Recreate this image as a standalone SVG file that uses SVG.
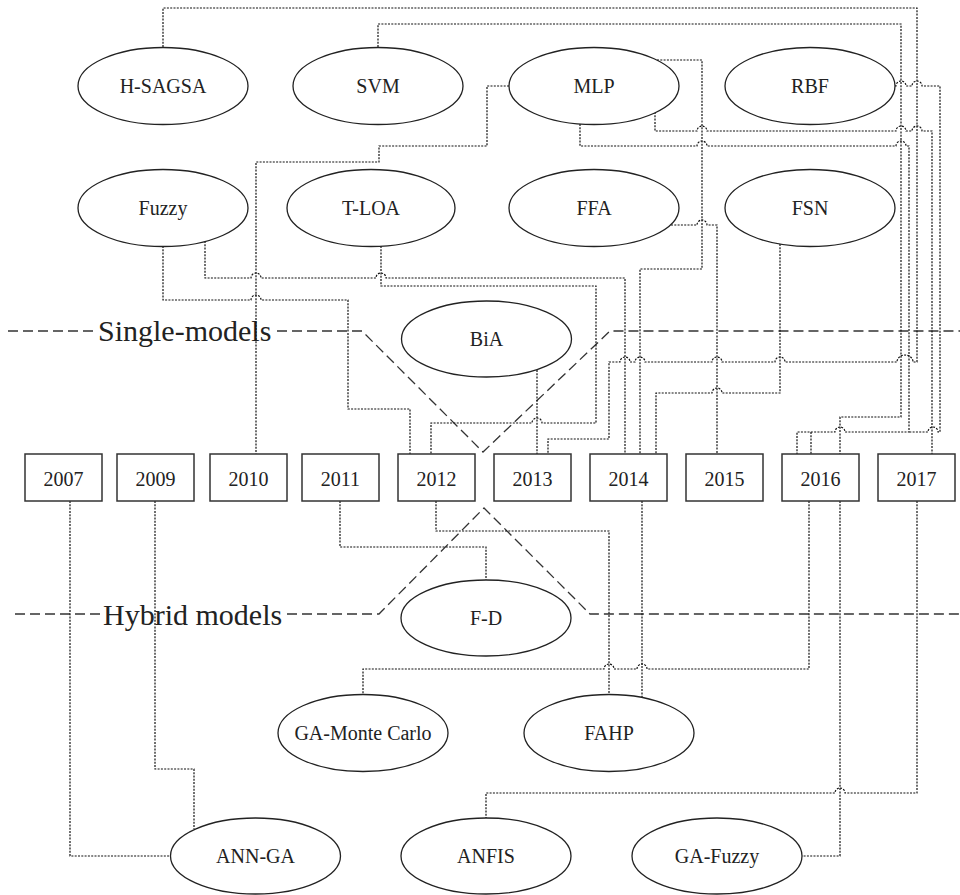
<svg xmlns="http://www.w3.org/2000/svg" width="960" height="895" viewBox="0 0 960 895">
  <style>
    .node ellipse { fill: #fff; stroke: #222; stroke-width: 1.3; }
    .node rect { fill: #fff; stroke: #333; stroke-width: 1.5; }
    .node text { font-family: "Liberation Serif", "Times New Roman", serif; font-size: 20px; fill: #222; text-anchor: middle; }
    .link { fill: none; stroke: #111; stroke-width: 1.2; stroke-dasharray: 2 1.3; }
    .sep { fill: none; stroke: #333; stroke-width: 1.3; stroke-dasharray: 10 5; }
    .sep-label { font-family: "Liberation Serif", "Times New Roman", serif; font-size: 30px; fill: #222; }
  </style>

  <!-- category separators -->
  <g id="separators">
    <path class="sep" d="M8,331 H97"/>
    <path class="sep" d="M277,331 H362 L483,452 L610,331 H960"/>
    <text class="sep-label" x="98" y="341">Single-models</text>
    <path class="sep" d="M15,614 H102"/>
    <path class="sep" d="M287,614 H379 L484,508 L590,614 H960"/>
    <text class="sep-label" x="103" y="625">Hybrid models</text>
  </g>

  <!-- dotted links between methods and years (small arcs mark crossings) -->
  <g id="connectors">
    <!-- H-SAGSA to 2013 -->
    <path class="link" d="M163,47 V8 H917 V362 H913 A8,7 0 0 0 897,362 H785 A5,5 0 0 0 775,362 H722 A5,5 0 0 0 712,362 H645 A5,5 0 0 0 635,362 H630 A5,5 0 0 0 620,362 H609 V439 H548 V454"/>
    <!-- SVM to 2016 -->
    <path class="link" d="M378,47 V24 H901 V417 H840 V454"/>
    <!-- MLP to 2010 -->
    <path class="link" d="M509,86 H487 V146 H379 V162 H256 V454"/>
    <!-- MLP to 2014 -->
    <path class="link" d="M657,60 H702 V269 H640 V454"/>
    <!-- MLP to 2017 -->
    <path class="link" d="M655,112 V131 H697 A5,5 0 0 1 707,131 H896 A5,5 0 0 1 906,131 H912 A5,5 0 0 1 922,131 H932 V454"/>
    <!-- MLP to 2016 (shared run along y=432) -->
    <path class="link" d="M580,124 V146 H697 A5,5 0 0 1 707,146 H896 A5,5 0 0 1 906,146 H909 V432 H845 A5,5 0 0 0 835,432 H797 V454"/>
    <!-- RBF to 2016: joins the shared run, then drops at x=811 -->
    <path class="link" d="M895,86 H896 A5,5 0 0 1 906,86 H912 A5,5 0 0 1 922,86 H940 V432 H938 A5,5 0 0 0 928,432 H909 M811,432 V454"/>
    <!-- Fuzzy to 2012 -->
    <path class="link" d="M163,246 V300 H251 A5,5 0 0 1 261,300 H348 V409 H410 V454"/>
    <!-- Fuzzy to 2014 -->
    <path class="link" d="M205,241 V278 H251 A5,5 0 0 1 261,278 H376 A5,5 0 0 1 386,278 H625 V454"/>
    <!-- T-LOA to 2012 -->
    <path class="link" d="M381,246 V286 H596 V423 H542 A5,5 0 0 0 532,423 H431 V454"/>
    <!-- FFA to 2015 -->
    <path class="link" d="M671,225 H697 A5,5 0 0 1 707,225 H717 V454"/>
    <!-- FSN to 2014 -->
    <path class="link" d="M780,244 V393 H722 A5,5 0 0 0 712,393 H656 V454"/>
    <!-- BiA to 2013 -->
    <path class="link" d="M537,370 V454"/>

    <!-- years to hybrid models -->
    <path class="link" d="M70,501 V856 H171"/>
    <path class="link" d="M155,501 V769 H194 V829"/>
    <path class="link" d="M340,501 V547 H486 V580"/>
    <path class="link" d="M436,501 V531 H609 V695"/>
    <path class="link" d="M642,501 V698"/>
    <path class="link" d="M809,501 V669 H647 A5,5 0 0 0 637,669 H614 A5,5 0 0 0 604,669 H363 V695"/>
    <path class="link" d="M840,501 V856 H802"/>
    <path class="link" d="M917,501 V793 H845 A5,5 0 0 0 835,793 H486 V818"/>
  </g>

  <!-- single models -->
  <g id="n-hsagsa" class="node"><ellipse cx="163" cy="86" rx="85" ry="38.5"/><text x="163" y="93">H-SAGSA</text></g>
  <g id="n-svm" class="node"><ellipse cx="378" cy="86" rx="85" ry="38.5"/><text x="378" y="93">SVM</text></g>
  <g id="n-mlp" class="node"><ellipse cx="594" cy="86" rx="85" ry="38.5"/><text x="594" y="93">MLP</text></g>
  <g id="n-rbf" class="node"><ellipse cx="810" cy="86" rx="85" ry="38.5"/><text x="810" y="93">RBF</text></g>
  <g id="n-fuzzy" class="node"><ellipse cx="163" cy="208" rx="85" ry="38.5"/><text x="163" y="215">Fuzzy</text></g>
  <g id="n-tloa" class="node"><ellipse cx="371" cy="208" rx="84" ry="38.5"/><text x="371" y="215">T-LOA</text></g>
  <g id="n-ffa" class="node"><ellipse cx="594" cy="208" rx="85" ry="38.5"/><text x="594" y="215">FFA</text></g>
  <g id="n-fsn" class="node"><ellipse cx="810" cy="208" rx="85" ry="38.5"/><text x="810" y="215">FSN</text></g>
  <g id="n-bia" class="node"><ellipse cx="486.5" cy="339" rx="85" ry="38"/><text x="486.5" y="346">BiA</text></g>

  <!-- years -->
  <g id="y2007" class="node"><rect x="25" y="454" width="77" height="47"/><text x="63.5" y="485.5">2007</text></g>
  <g id="y2009" class="node"><rect x="117" y="454" width="77" height="47"/><text x="155.5" y="485.5">2009</text></g>
  <g id="y2010" class="node"><rect x="210" y="454" width="77" height="47"/><text x="248.5" y="485.5">2010</text></g>
  <g id="y2011" class="node"><rect x="302" y="454" width="77" height="47"/><text x="340.5" y="485.5">2011</text></g>
  <g id="y2012" class="node"><rect x="398" y="454" width="77" height="47"/><text x="436.5" y="485.5">2012</text></g>
  <g id="y2013" class="node"><rect x="494" y="454" width="77" height="47"/><text x="532.5" y="485.5">2013</text></g>
  <g id="y2014" class="node"><rect x="590" y="454" width="77" height="47"/><text x="628.5" y="485.5">2014</text></g>
  <g id="y2015" class="node"><rect x="686" y="454" width="77" height="47"/><text x="724.5" y="485.5">2015</text></g>
  <g id="y2016" class="node"><rect x="782" y="454" width="77" height="47"/><text x="820.5" y="485.5">2016</text></g>
  <g id="y2017" class="node"><rect x="878" y="454" width="77" height="47"/><text x="916.5" y="485.5">2017</text></g>

  <!-- hybrid models -->
  <g id="n-fd" class="node"><ellipse cx="486" cy="618" rx="85" ry="38"/><text x="486" y="625">F-D</text></g>
  <g id="n-gamc" class="node"><ellipse cx="363" cy="733" rx="85" ry="38.5"/><text x="363" y="740">GA-Monte Carlo</text></g>
  <g id="n-fahp" class="node"><ellipse cx="609" cy="733" rx="85" ry="38.5"/><text x="609" y="740">FAHP</text></g>
  <g id="n-annga" class="node"><ellipse cx="255.5" cy="856" rx="85" ry="38"/><text x="255.5" y="863">ANN-GA</text></g>
  <g id="n-anfis" class="node"><ellipse cx="486" cy="856" rx="85" ry="38"/><text x="486" y="863">ANFIS</text></g>
  <g id="n-gafuzzy" class="node"><ellipse cx="717" cy="856" rx="85" ry="38"/><text x="717" y="863">GA-Fuzzy</text></g>
</svg>
